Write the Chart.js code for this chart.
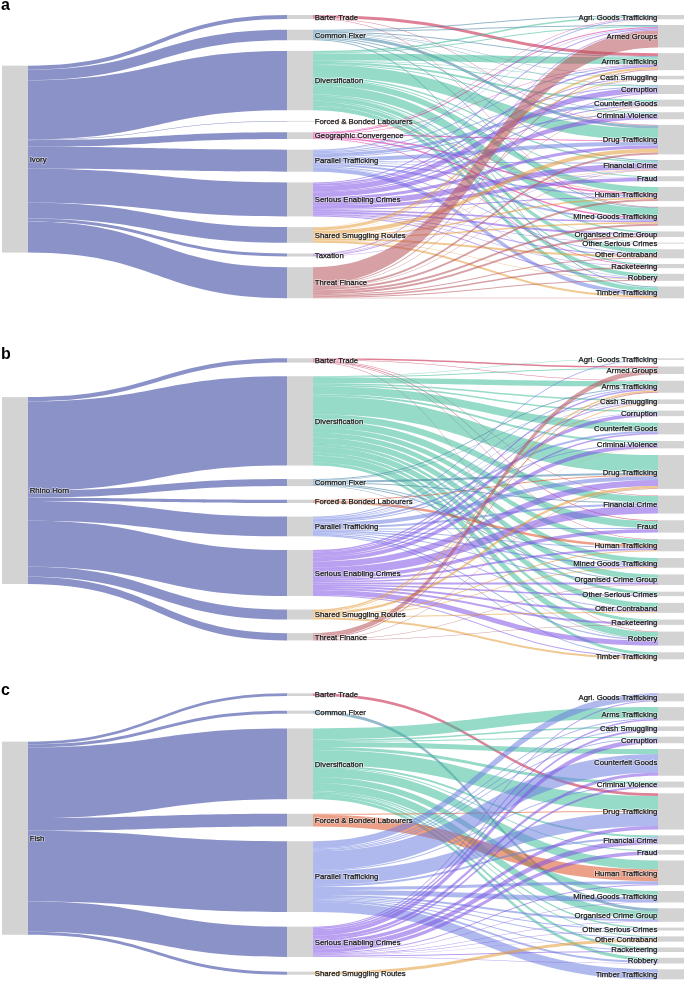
<!DOCTYPE html>
<html>
<head>
<meta charset="utf-8">
<title>Sankey</title>
<script src="https://cdn.jsdelivr.net/npm/chart.js@4.4.1/dist/chart.umd.min.js"></script>
<style>
html,body{margin:0;padding:0;background:#fff;}
body{width:688px;height:982px;position:relative;overflow:hidden;}
.panel{position:absolute;left:0;width:688px;}
.letter{position:absolute;left:1px;font-family:"Liberation Sans",Arial,sans-serif;font-weight:bold;font-size:16px;line-height:16px;color:#000;}
</style>
</head>
<body>
<div class="panel" style="top:0;height:310px"><canvas id="ca"></canvas></div>
<div class="panel" style="top:320px;height:345px"><canvas id="cb"></canvas></div>
<div class="panel" style="top:665px;height:317px"><canvas id="cc"></canvas></div>
<div class="letter" style="top:-3.5px">a</div>
<div class="letter" style="top:345.5px">b</div>
<div class="letter" style="top:681.5px">c</div>
<script>
// ---------------- DATA ----------------
const sourceA = "Ivory";
const sourceB = "Rhino Horn";
const sourceC = "Fish";

const middleA = ["Barter Trade","Common Fixer","Diversification","Forced & Bonded Labourers","Geographic Convergence","Parallel Trafficking","Serious Enabling Crimes","Shared Smuggling Routes","Taxation","Threat Finance"];
const middleB = ["Barter Trade","Diversification","Common Fixer","Forced & Bonded Labourers","Parallel Trafficking","Serious Enabling Crimes","Shared Smuggling Routes","Threat Finance"];
const middleC = ["Barter Trade","Common Fixer","Diversification","Forced & Bonded Labourers","Parallel Trafficking","Serious Enabling Crimes","Shared Smuggling Routes"];

const targetsA = ["Agri. Goods Trafficking","Armed Groups","Arms Trafficking","Cash Smuggling","Corruption","Counterfeit Goods","Criminal Violence","Drug Trafficking","Financial Crime","Fraud","Human Trafficking","Mined Goods Trafficking","Organised Crime Group","Other Serious Crimes","Other Contraband","Racketeering","Robbery","Timber Trafficking"];
const targetsB = ["Agri. Goods Trafficking","Armed Groups","Arms Trafficking","Cash Smuggling","Corruption","Counterfeit Goods","Criminal Violence","Drug Trafficking","Financial Crime","Fraud","Human Trafficking","Mined Goods Trafficking","Organised Crime Group","Other Serious Crimes","Other Contraband","Racketeering","Robbery","Timber Trafficking"];
const targetsC = ["Agri. Goods Trafficking","Arms Trafficking","Cash Smuggling","Corruption","Counterfeit Goods","Criminal Violence","Drug Trafficking","Financial Crime","Fraud","Human Trafficking","Mined Goods Trafficking","Organised Crime Group","Other Serious Crimes","Other Contraband","Racketeering","Robbery","Timber Trafficking"];

// rows = middle nodes, columns = targets
const flowsA = [
  [0,0,3,0,0,0,0,0.5,0,0,0,0.5,0,0,0,0,0,0],
  [1,1,1,0.5,0.5,0,0.5,3,1,0,0,1,0,0,0,0,0,1],
  [1.5,1,7,0.5,1,2,1,12,1.5,1,6,9,1.5,0.5,4,1.5,4,4.3],
  [0,0,0,0,0,0,0,0,0,0,0.7,0,0,0,0,0,0,0],
  [0.5,1,0.5,0,0,0,0,1,0,0,1.5,1.5,0,0,0,0.7,0,0],
  [1,0.5,1,0,1,3,1,4,1,0.5,1.5,2,0,0,1,0,0.5,4],
  [0,1,1.5,1,5.5,1,4.5,3,5.5,3.5,1,1.5,2,0.5,1,0.5,1,0],
  [0.3,0,2,1,0,0.4,0,4,0.5,0,1.5,1.5,0,0,2,0,0.5,2],
  [0,1,0,0.5,1,0,0,0,0.5,0,0,0,0,0,0,0,0,0],
  [0,17,1,0,0,0.5,0,2,0.5,0,2,2,2,0,1,1.5,1,0.5]
];
const flowsB = [
  [0,1.5,0.5,0,0,0,0,0,0.5,0.8,0.5,0,0,0,0,0,0.5,0],
  [0.5,1,5.5,1.5,1.5,8,2,18,6.5,7,5,5,6,3,6,3,6.8,3],
  [0,0,1,0.5,0,0,0,2,1,0,0,1,1,0,0,0,0.5,0],
  [0,0,0,0,0,0,0,0.8,0,0,2.5,0,0,0,0,0,0,0],
  [1,0,1,0.5,0.5,2,1,4,2,1,1,1.5,1,0,1,0,1.2,1],
  [0,0,1.5,1,3.5,1.5,4,6,8,3.5,2,1.5,2,1.5,2,2,5,1],
  [0,0,1.5,1,0,0,0.3,2.5,0,0,1,0.7,0,0,1,0,0,2],
  [0,5,1,0,0,0,0,0.5,0,0,0,0,0.5,0,0,0.3,0,0]
];
const flowsC = [
  [0,0,0,0,0,0,2.7,0,0,0,0,0,0,0,0,0,0],
  [0,0,0,0,0,0,0,0,0,0,0,3,0,0,0,0,0],
  [0,11,1.5,1,5,3,15,2,1,9,6,8,1.5,1,2.5,3.2,0],
  [0,0,0,0,0,0,1,0,0,11.7,0,0,0,0,0,0,0],
  [7,1,1,1,18.7,1,14,2,0,3,5,2,1,1,1,2,10],
  [1,1.5,2,4.5,3,2,3.5,5,3.5,1,0.5,0.5,0.5,0.3,1,0.5,0],
  [0,0,0,0,0,0,0,0,0,0,0,0,0,3,0,0,0]
];

// ---------------- STYLE ----------------
const FONT_SIZE = 7.8;
const FONT = FONT_SIZE + 'px "Liberation Sans", Arial, sans-serif';
const TEXT_COLOUR = '#151515';
const NODE_COLOUR = '#d3d3d3';
const FIRST_LINK_COLOUR = 'rgb(138,146,200)';
const LINK_COLOURS = {
  "Barter Trade":"rgba(195,24,64,0.55)",
  "Common Fixer":"rgba(64,128,164,0.55)",
  "Diversification":"rgba(64,188,155,0.55)",
  "Forced & Bonded Labourers":"rgba(219,82,37,0.55)",
  "Geographic Convergence":"rgba(219,27,155,0.55)",
  "Parallel Trafficking":"rgba(109,128,224,0.55)",
  "Serious Enabling Crimes":"rgba(128,82,228,0.55)",
  "Shared Smuggling Routes":"rgba(228,155,55,0.55)",
  "Taxation":"rgba(155,100,219,0.55)",
  "Threat Finance":"rgba(182,82,91,0.55)"
};
const COLUMN_X = [0, 0.4345, 1];
const NODE_W = 26;

function sum(a){ return a.reduce((s,v)=>s+v,0); }

function band(ctx, x0, x1, a0, a1, b0, b1, colour){
  const xm = (x0 + x1) / 2;
  ctx.beginPath();
  ctx.moveTo(x0, a0);
  ctx.bezierCurveTo(xm, a0, xm, b0, x1, b0);
  ctx.lineTo(x1, b1);
  ctx.bezierCurveTo(xm, b1, xm, a1, x0, a1);
  ctx.closePath();
  ctx.fillStyle = colour;
  ctx.fill();
}

function label(ctx, text, x, y, align){
  const yy = y + FONT_SIZE * 0.35;
  ctx.font = FONT;
  ctx.textAlign = align;
  ctx.textBaseline = 'alphabetic';
  ctx.lineJoin = 'round';
  ctx.lineWidth = 1.6;
  ctx.strokeStyle = 'rgba(255,255,255,0.55)';
  ctx.strokeText(text, x, yy);
  ctx.fillStyle = TEXT_COLOUR;
  ctx.fillText(text, x, yy);
  ctx.lineWidth = 0.25;
  ctx.strokeStyle = TEXT_COLOUR;
  ctx.strokeText(text, x, yy);
}

function makeSankey(canvasId, source, middle, targets, flows, opts){
  const midVals = flows.map(sum);
  const tgtVals = targets.map((_, j) => sum(flows.map(r => r[j])));
  const total = sum(midVals);
  const yMax = sum(tgtVals) + (targets.length - 1) * opts.rightGap;

  const plugin = {
    id: 'sankey_' + canvasId,
    afterDraw(chart){
      const xs = chart.scales.x, ys = chart.scales.y, ctx = chart.ctx;
      const py = v => ys.getPixelForValue(v);
      const colX = COLUMN_X.map(f => xs.getPixelForValue(f));
      let y = 0;
      const mid = middle.map((name, i) => { const n = {name, v: midVals[i], y0: y}; y += midVals[i] + opts.midGap; return n; });
      y = 0;
      const tgt = targets.map((name, j) => { const n = {name, v: tgtVals[j], y0: y}; y += tgtVals[j] + opts.rightGap; return n; });
      const wc = sum(mid.map(n => n.v * (n.y0 + n.v / 2))) / total;
      const src = {name: source, v: total, y0: wc - total / 2};

      ctx.save();
      let so = src.y0;
      mid.forEach(n => {
        if (n.v <= 0) return;
        band(ctx, colX[0] + NODE_W, colX[1], py(so), py(so + n.v), py(n.y0), py(n.y0 + n.v), FIRST_LINK_COLOUR);
        so += n.v;
      });
      const inOff = targets.map(() => 0);
      const tgtStart = flows.map(() => []);
      flows.forEach((row, i) => row.forEach((v, j) => { tgtStart[i][j] = tgt[j].y0 + inOff[j]; inOff[j] += v; }));
      mid.forEach((n, i) => {
        let o = n.y0;
        flows[i].forEach((v, j) => {
          if (v <= 0) return;
          const t0 = tgtStart[i][j];
          band(ctx, colX[1] + NODE_W, colX[2], py(o), py(o + v), py(t0), py(t0 + v), LINK_COLOURS[n.name]);
          o += v;
        });
      });
      const rect = (x, n) => { const a = py(n.y0), b = py(n.y0 + n.v); ctx.fillStyle = NODE_COLOUR; ctx.fillRect(x, a, NODE_W, Math.max(0.6, b - a)); };
      rect(colX[0], src);
      mid.forEach(n => rect(colX[1], n));
      tgt.forEach(n => rect(colX[2], n));
      label(ctx, src.name, colX[0] + NODE_W + 1.7, py(src.y0 + src.v / 2), 'left');
      mid.forEach(n => label(ctx, n.name, colX[1] + NODE_W + 1.7, py(n.y0 + n.v / 2), 'left'));
      tgt.forEach(n => label(ctx, n.name, colX[2] - 0.7, py(n.y0 + n.v / 2), 'right'));
      ctx.restore();
    }
  };

  return new Chart(document.getElementById(canvasId), {
    type: 'scatter',
    data: { datasets: [] },
    options: {
      responsive: true,
      maintainAspectRatio: false,
      animation: false,
      layout: { padding: opts.padding },
      plugins: { legend: { display: false }, tooltip: { enabled: false }, title: { display: false } },
      scales: {
        x: { type: 'linear', min: 0, max: 1, display: false },
        y: { type: 'linear', min: 0, max: yMax, reverse: true, display: false }
      }
    },
    plugins: [plugin]
  });
}

makeSankey('ca', sourceA, middleA, targetsA, flowsA, {midGap: 10.7, rightGap: 5.67, padding: {top: 15, bottom: 11.7, left: 2, right: 30}});
makeSankey('cb', sourceB, middleB, targetsB, flowsB, {midGap: 13.6, rightGap: 6.71, padding: {top: 38.3, bottom: 5.7, left: 2, right: 30}});
makeSankey('cc', sourceC, middleC, targetsC, flowsC, {midGap: 14.7, rightGap: 5.8, padding: {top: 28.3, bottom: 2.7, left: 2, right: 30}});
</script>
</body>
</html>
